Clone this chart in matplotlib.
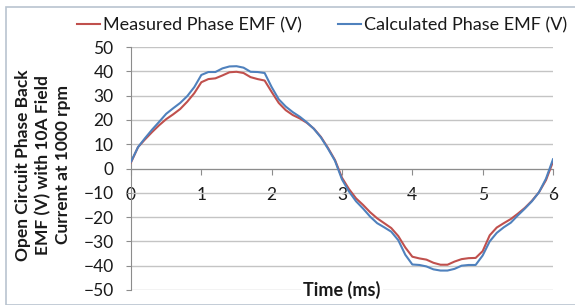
import matplotlib
matplotlib.use("Agg")
import matplotlib.pyplot as plt
from matplotlib.patches import Rectangle

time_ms = [0.0, 0.1, 0.2, 0.3, 0.4, 0.5, 0.6, 0.7, 0.8, 0.9,
           1.0, 1.1, 1.2, 1.3, 1.4, 1.5, 1.6, 1.7, 1.8, 1.9,
           2.0, 2.1, 2.2, 2.3, 2.4, 2.5, 2.6, 2.7, 2.8, 2.9,
           3.0, 3.1, 3.2, 3.3, 3.4, 3.5, 3.6, 3.7, 3.8, 3.9,
           4.0, 4.1, 4.2, 4.3, 4.4, 4.5, 4.6, 4.7, 4.8, 4.9,
           5.0, 5.1, 5.2, 5.3, 5.4, 5.5, 5.6, 5.7, 5.8, 5.9, 6.0]

measured = [2.5, 8.8, 12.0, 15.0, 17.8, 20.3, 22.3, 24.5, 27.5, 31.0,
            35.5, 36.8, 37.1, 38.3, 39.6, 39.8, 39.3, 37.6, 36.8, 36.2,
            31.5, 27.0, 24.0, 22.0, 20.6, 18.8, 16.4, 13.0, 8.5, 3.5,
            -3.8, -8.5, -12.3, -15.0, -18.0, -20.5, -22.5, -24.5, -27.8, -32.5,
            -36.3, -37.0, -37.5, -38.8, -39.6, -39.6, -38.3, -37.3, -36.9, -36.8,
            -34.0, -27.5, -24.3, -22.5, -20.8, -18.6, -16.2, -13.3, -9.8, -4.8, 2.8]

calculated = [2.8, 8.8, 12.5, 16.0, 19.2, 22.5, 24.8, 27.0, 29.8, 33.5,
              38.5, 39.7, 39.7, 41.2, 42.0, 42.1, 41.5, 39.8, 39.7, 39.3,
              33.5, 28.5, 25.5, 23.2, 21.3, 19.0, 16.3, 12.8, 8.2, 3.2,
              -4.5, -9.5, -13.5, -16.5, -19.8, -22.5, -24.2, -26.0, -29.5, -35.5,
              -39.5, -39.7, -40.3, -41.5, -42.0, -42.0, -41.3, -40.0, -39.7, -39.7,
              -35.8, -30.0, -26.5, -24.2, -22.3, -19.3, -16.5, -13.5, -9.8, -4.2, 3.8]

x_ticks = [0, 1, 2, 3, 4, 5, 6]
y_ticks = [-50, -40, -30, -20, -10, 0, 10, 20, 30, 40, 50]

plt.rcParams['font.family'] = ['Lato', 'DejaVu Sans']

W, H = 575, 305
fig = plt.figure(figsize=(W / 100, H / 100), dpi=100)
fig.patch.set_facecolor('white')

# outer chart border
fig.patches.append(Rectangle((6 / W, 0.5 / H), 1.2, (H - 7 - 0.5) / H,
                             transform=fig.transFigure, fill=False,
                             edgecolor='#b9c4cf', linewidth=1.2))

ax = fig.add_axes([131 / W, 1 - 290 / H, (553 - 131) / W, (290 - 47) / H])
ax.set_xlim(0, 6)
ax.set_ylim(-50, 50)

ax.plot(time_ms, measured, color='#c0504d', lw=1.5, label='Measured Phase EMF (V)',
        zorder=3, solid_joinstyle='round')
ax.plot(time_ms, calculated, color='#4f81bd', lw=1.5, label='Calculated Phase EMF (V)',
        zorder=3, solid_joinstyle='round')

ax.set_yticks(y_ticks)
ax.set_xticks(x_ticks)
ax.yaxis.grid(True, color='#c4c4c4', lw=1.0)
ax.set_axisbelow(True)

for s in ['top', 'right']:
    ax.spines[s].set_visible(False)
ax.spines['bottom'].set_position(('data', 0))
ax.spines['bottom'].set_color('#8c8c8c')
ax.spines['left'].set_color('#8c8c8c')

ax.tick_params(axis='y', direction='out', length=3.5, color='#8c8c8c', pad=9,
               labelsize=12.5, labelcolor='#1a1a1a')
ax.tick_params(axis='x', direction='out', length=4.5, color='#8c8c8c', pad=9,
               labelsize=12.5, labelcolor='#1a1a1a')

fig.text(43 / W, 1 - 165 / H,
         'Open Circuit Phase Back\nEMF (V) with 10A Field\nCurrent at 1000 rpm',
         rotation=90, ha='center', va='center', fontsize=12.5, fontweight='bold',
         linespacing=1.3, color='#1a1a1a')

fig.text(342 / W, 1 - 290 / H, 'Time (ms)', ha='center', va='center',
         fontsize=13, fontweight='bold', color='#1a1a1a',
         bbox=dict(facecolor='white', edgecolor='none', pad=1.5), zorder=5)

fig.legend(loc='center', bbox_to_anchor=(322 / W, 1 - 25 / H), ncol=2,
           frameon=False, fontsize=13, handlelength=1.3, handletextpad=0.15,
           columnspacing=2.0, labelcolor='#1a1a1a')

fig.savefig('out.png', dpi=100, facecolor='white')
